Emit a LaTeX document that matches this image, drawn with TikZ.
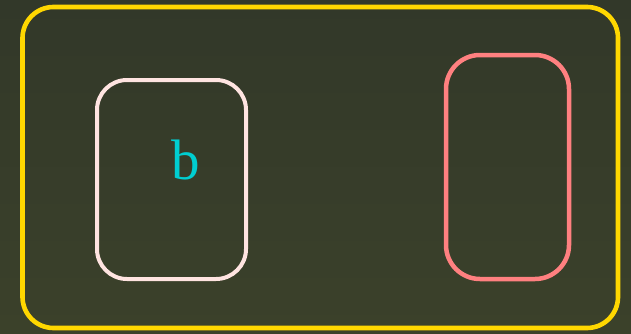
\documentclass[tikz,border=0pt]{standalone}
\usepackage{fontspec}
\setmainfont{Liberation Serif}
\usepackage{tikz}
\usetikzlibrary{positioning}
\definecolor{colBgTop}{RGB}{50,56,41}
\definecolor{colBgBot}{RGB}{59,65,42}
\definecolor{colFrame}{RGB}{255,215,0}
\definecolor{colLeft}{RGB}{255,228,225}
\definecolor{colRight}{RGB}{255,128,128}
\definecolor{colLabel}{RGB}{0,206,209}
\tikzset{
  frame/.style  = {rectangle, rounded corners=31pt, draw=colFrame,
                   line width=4.6pt, inner sep=0pt},
  lblock/.style = {rectangle, rounded corners=30pt, draw=colLeft,
                   line width=4pt, inner sep=0pt},
  rblock/.style = {rectangle, rounded corners=34pt, draw=colRight,
                   line width=4.5pt, inner sep=0pt},
  lbl/.style    = {text=colLabel, font=\fontsize{57}{60}\selectfont, inner sep=0pt},
}
\begin{document}
\begin{tikzpicture}[x=1pt, y=1pt]

%% -- Background ------------------------------------------
\shade[top color=colBgTop, bottom color=colBgBot] (0,0) rectangle (631,333);
\useasboundingbox (0,0) rectangle (631,333);

%% -- Outer frame -----------------------------------------
\node[frame, minimum width=595.5pt, minimum height=321pt] (outer) at (320.25,165.5) {};

%% -- Inner boxes -----------------------------------------
\node[lblock, minimum width=149pt, minimum height=199pt] (left)  at (171.5,153.5) {};
\node[rblock, minimum width=123pt, minimum height=224pt] (right) at (507.5,166) {};

%% -- Label -----------------------------------------------
\node[lbl] (b) at (186,173) {b};

\end{tikzpicture}
\end{document}
